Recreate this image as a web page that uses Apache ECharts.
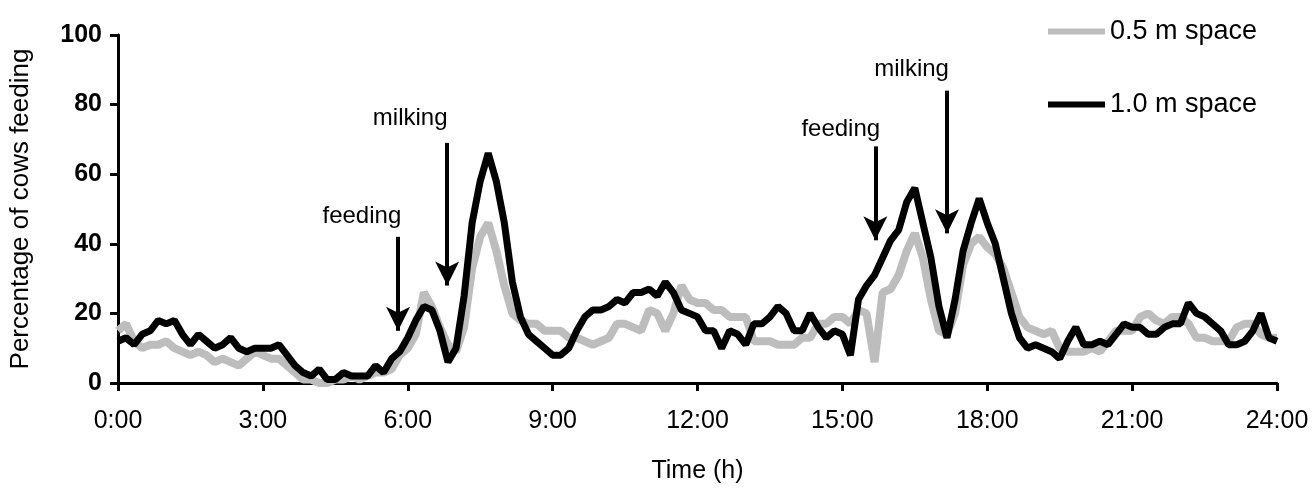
<!DOCTYPE html>
<html>
<head>
<meta charset="utf-8">
<script src="https://cdn.jsdelivr.net/npm/echarts@6/dist/echarts.min.js"></script>
<style>
  html, body { margin: 0; padding: 0; background: #fff; }
  #chart { width: 1314px; height: 489px; }
</style>
</head>
<body>
<div id="chart"></div>
<script>
const tickLabels = ['0:00', '3:00', '6:00', '9:00', '12:00', '15:00', '18:00', '21:00', '24:00']

// percentage of cows feeding, one reading every 10 min from 0:00 to 24:00
const space05 = [
  15, 17, 12, 10, 11, 11,
  12, 10, 9, 8, 9, 8,
  6, 7, 6, 5, 7, 9,
  8, 7, 7, 5, 3, 1,
  1, 0, 0, 1, 1, 2,
  1, 2, 3, 3, 4, 8,
  10, 14, 26, 22, 16, 11,
  9, 16, 33, 42, 46, 38,
  28, 20, 18, 17, 17, 15,
  15, 15, 13, 13, 12, 11,
  12, 13, 17, 17, 16, 15,
  21, 20, 15, 20, 28, 24,
  23, 23, 21, 21, 19, 19,
  19, 12, 12, 12, 11, 11,
  11, 13, 13, 17, 17, 19,
  19, 17, 21, 20, 6, 26,
  27, 31, 38, 43, 36, 24,
  15, 14, 20, 34, 40, 42,
  39, 37, 33, 26, 19, 16,
  15, 14, 15, 10, 9, 9,
  9, 10, 9, 12, 15, 15,
  15, 19, 20, 18, 17, 19,
  19, 17, 13, 13, 12, 12,
  12, 16, 17, 17, 14, 13,
  13
]
const space10 = [
  12, 13, 11, 14, 15, 18,
  17, 18, 14, 11, 14, 12,
  10, 11, 13, 10, 9, 10,
  10, 10, 11, 8, 5, 3,
  2, 4, 1, 1, 3, 2,
  2, 2, 5, 3, 7, 9,
  13, 18, 22, 21, 15, 6,
  10, 25, 46, 58, 66, 58,
  46, 29, 19, 14, 12, 10,
  8, 8, 10, 15, 19, 21,
  21, 22, 24, 23, 26, 26,
  27, 25, 29, 26, 21, 20,
  19, 15, 15, 10, 15, 14,
  11, 17, 17, 19, 22, 20,
  15, 15, 20, 16, 13, 15,
  14, 8, 24, 28, 31, 36,
  41, 44, 52, 56, 46, 36,
  22, 13, 24, 38, 46, 53,
  46, 40, 30, 20, 13, 10,
  11, 10, 9, 7, 12, 16,
  11, 11, 12, 11, 14, 17,
  16, 16, 14, 14, 16, 17,
  17, 23, 20, 19, 17, 15,
  11, 11, 12, 15, 20, 13,
  12
]

// annotation arrows: [minute, top value, tip value]
const arrows = [[348, 42, 15], [409, 69, 28], [941, 68, 41], [1030, 84, 43]]
const notes = [['feeding', 303, 48], ['milking', 363, 76], ['feeding', 898, 73], ['milking', 986, 90]]

const font = 'Liberation Sans, Arial, sans-serif'

function toPairs(vals) {
  return vals.map((v, i) => [i * 10, v])
}

const chart = echarts.init(document.getElementById('chart'))
chart.setOption({
  animation: false,
  backgroundColor: '#fff',
  grid: { left: 118, right: 37, top: 35, bottom: 103 },
  legend: {
    orient: 'vertical',
    left: 1043,
    top: 13,
    itemWidth: 57,
    itemHeight: 6,
    itemGap: 46,
    icon: 'rect',
    textStyle: { fontSize: 27, fontFamily: font, color: '#000' },
    data: ['0.5 m space', '1.0 m space']
  },
  xAxis: {
    type: 'value',
    min: 0,
    max: 1440,
    interval: 180,
    name: 'Time (h)',
    nameLocation: 'middle',
    nameGap: 76,
    nameTextStyle: { fontSize: 25, fontFamily: font, color: '#000' },
    axisLine: { lineStyle: { color: '#000', width: 3 } },
    axisTick: { length: 8, lineStyle: { color: '#000', width: 3 } },
    axisLabel: {
      margin: 26,
      fontSize: 25,
      fontFamily: font,
      color: '#000',
      formatter: v => tickLabels[v / 180]
    },
    splitLine: { show: false }
  },
  yAxis: {
    type: 'value',
    min: 0,
    max: 100,
    interval: 20,
    name: 'Percentage of cows feeding',
    nameLocation: 'middle',
    nameGap: 84,
    nameTextStyle: { fontSize: 26, fontFamily: font, color: '#000' },
    axisLine: { show: true, lineStyle: { color: '#000', width: 3 } },
    axisTick: { show: true, length: 8, lineStyle: { color: '#000', width: 3 } },
    axisLabel: { margin: 16, fontSize: 25, fontWeight: 'bold', fontFamily: font, color: '#000' },
    splitLine: { show: false }
  },
  series: [
    {
      name: '0.5 m space',
      type: 'line',
      showSymbol: false,
      silent: true,
      color: '#bdbdbd',
      lineStyle: { width: 8, color: '#bdbdbd' },
      data: toPairs(space05)
    },
    {
      name: '1.0 m space',
      type: 'line',
      showSymbol: false,
      silent: true,
      color: '#000',
      lineStyle: { width: 7, color: '#000' },
      data: toPairs(space10),
      markLine: {
        silent: true,
        symbol: ['none', 'arrow'],
        symbolSize: [18, 24],
        label: { show: false },
        lineStyle: { color: '#000', width: 4, type: 'solid' },
        data: arrows.map(a => [{ coord: [a[0], a[1]] }, { coord: [a[0], a[2]] }])
      },
      markPoint: {
        silent: true,
        symbolSize: 0,
        label: { show: true, position: 'inside', fontSize: 24, fontFamily: font, color: '#000', formatter: p => p.name },
        data: notes.map(n => ({ name: n[0], coord: [n[1], n[2]] }))
      }
    }
  ]
})
</script>
</body>
</html>
